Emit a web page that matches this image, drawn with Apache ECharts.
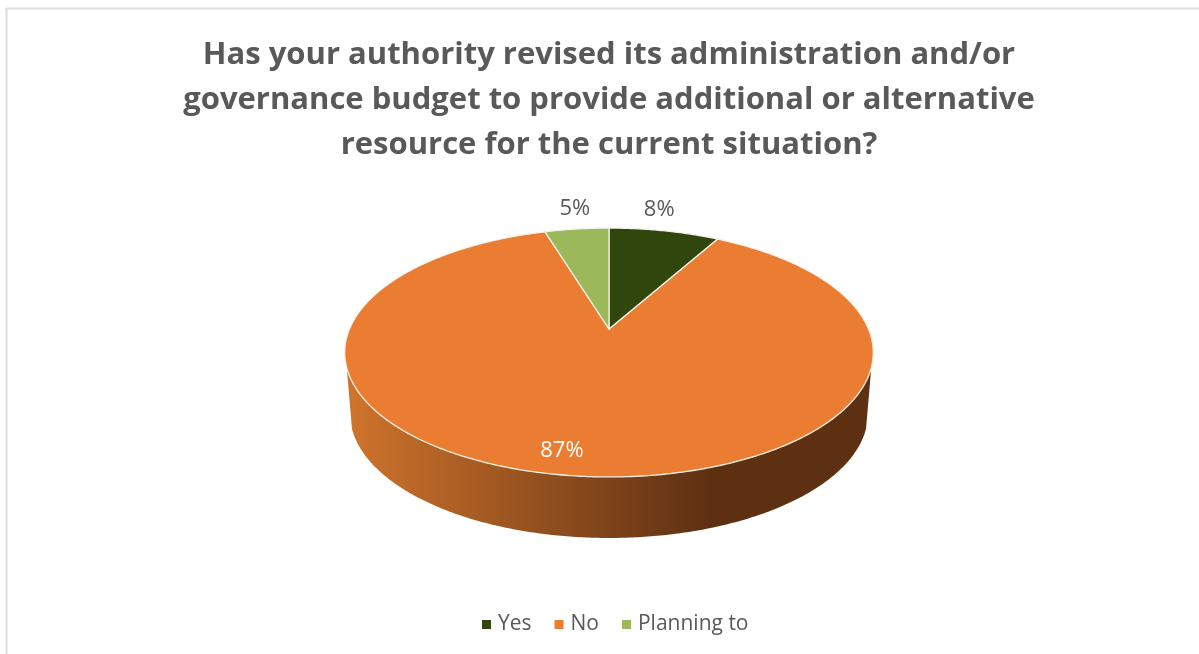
<!DOCTYPE html>
<html><head><meta charset="utf-8">
<style>html,body{margin:0;padding:0;background:#fff}#c{width:1199px;height:654px}</style>
<script src="https://cdn.jsdelivr.net/npm/echarts@6/dist/echarts.min.js"></script>
</head><body><div id="c"></div>
<script>
const titleText = "Has your authority revised its administration and/or\ngovernance budget to provide additional or alternative\nresource for the current situation?";
const categories = ["Yes", "No", "Planning to"];
const values = [8.1, 87.2, 4.7];
const colors = ["#31460C", "#EB7D32", "#9BB85B"];
const labelColors = ["#595959", "#FFFFFF", "#595959"];
const labelOffsets = [[-5, -21], [-13, -25], [-2, -20]];

// Perspective projection of the pie disc
const view = { cx: 609, cy: 329, a: 120, b: 259.5, k: -0.189, depth: 61, bottomScale: 0.98 };
const total = values.reduce((s, v) => s + v, 0);
const starts = [];
values.reduce((s, v, i) => { starts[i] = s; return s + v; }, 0);

function rim(theta) {
  const x = Math.sin(theta), y = -Math.cos(theta), d = 1 + view.k * y;
  return [view.cx + view.b * x / d, view.cy + view.a * y / d];
}
function rimBottom(theta) {
  const p = rim(theta);
  return [view.cx + (p[0] - view.cx) * view.bottomScale, p[1] + view.depth];
}
function arc(from, to, fn) {
  const n = Math.max(2, Math.ceil(Math.abs(to - from) / 0.01)), pts = [];
  for (let i = 0; i <= n; i++) pts.push(fn(from + (to - from) * i / n));
  return pts;
}
const rad = v => v / total * Math.PI * 2;
const wallFrom = 1.88, wallTo = 2 * Math.PI - 1.88;

function makeSeries(i) {
  return {
    type: "custom", name: categories[i], coordinateSystem: "none",
    z: i === 1 ? 2 : 3, silent: true, animation: false,
    itemStyle: { color: colors[i] },
    data: [values[i]],
    renderItem: function (params, api) {
      const from = rad(starts[i]), to = from + rad(api.value(0));
      const mid = (from + to) / 2, anchor = rim(mid);
      const children = [];
      if (i === 1) {
        children.push({
          type: "polygon",
          shape: { points: arc(wallFrom, wallTo, rim).concat(arc(wallTo, wallFrom, rimBottom)) },
          style: { fill: new echarts.graphic.LinearGradient(0, 0, 1, 0, [
            { offset: 0, color: "#CF742C" }, { offset: 0.69, color: "#5E3012" }, { offset: 1, color: "#5E3012" }
          ]) }
        });
      }
      children.push({
        type: "polygon",
        shape: { points: [[view.cx, view.cy]].concat(arc(from, to, rim)) },
        style: { fill: colors[i], stroke: "#F4F1EA", lineWidth: 1.3, lineJoin: "round" }
      });
      children.push({
        type: "text", z2: 10,
        style: {
          x: anchor[0] + labelOffsets[i][0], y: anchor[1] + labelOffsets[i][1],
          text: Math.round(api.value(0) / total * 100) + "%",
          fill: labelColors[i], font: '22px "Open Sans"', align: "center", verticalAlign: "middle"
        }
      });
      return { type: "group", children };
    }
  };
}

const chart = echarts.init(document.getElementById("c"), null, { renderer: "canvas" });
chart.setOption({
  animation: false,
  backgroundColor: "#fff",
  title: {
    text: titleText, left: 604, top: 28, textAlign: "center",
    textStyle: { fontFamily: "Open Sans", fontWeight: "bold", fontSize: 31, color: "#595959", lineHeight: 45 }
  },
  legend: {
    data: categories, left: 477, top: 609, icon: "rect", itemWidth: 9, itemHeight: 9, itemGap: 23,
    selectedMode: false,
    textStyle: { fontFamily: "Open Sans", fontSize: 21, color: "#595959", padding: [0, 0, 0, 2] }
  },
  graphic: [
    { type: "line", shape: { x1: 6.5, y1: 8.5, x2: 1199, y2: 8.5 }, style: { stroke: "#DDDDDD", lineWidth: 2 } },
    { type: "line", shape: { x1: 6.5, y1: 8, x2: 6.5, y2: 654 }, style: { stroke: "#DDDDDD", lineWidth: 2 } }
  ],
  series: categories.map((_, i) => makeSeries(i))
});
</script></body></html>
